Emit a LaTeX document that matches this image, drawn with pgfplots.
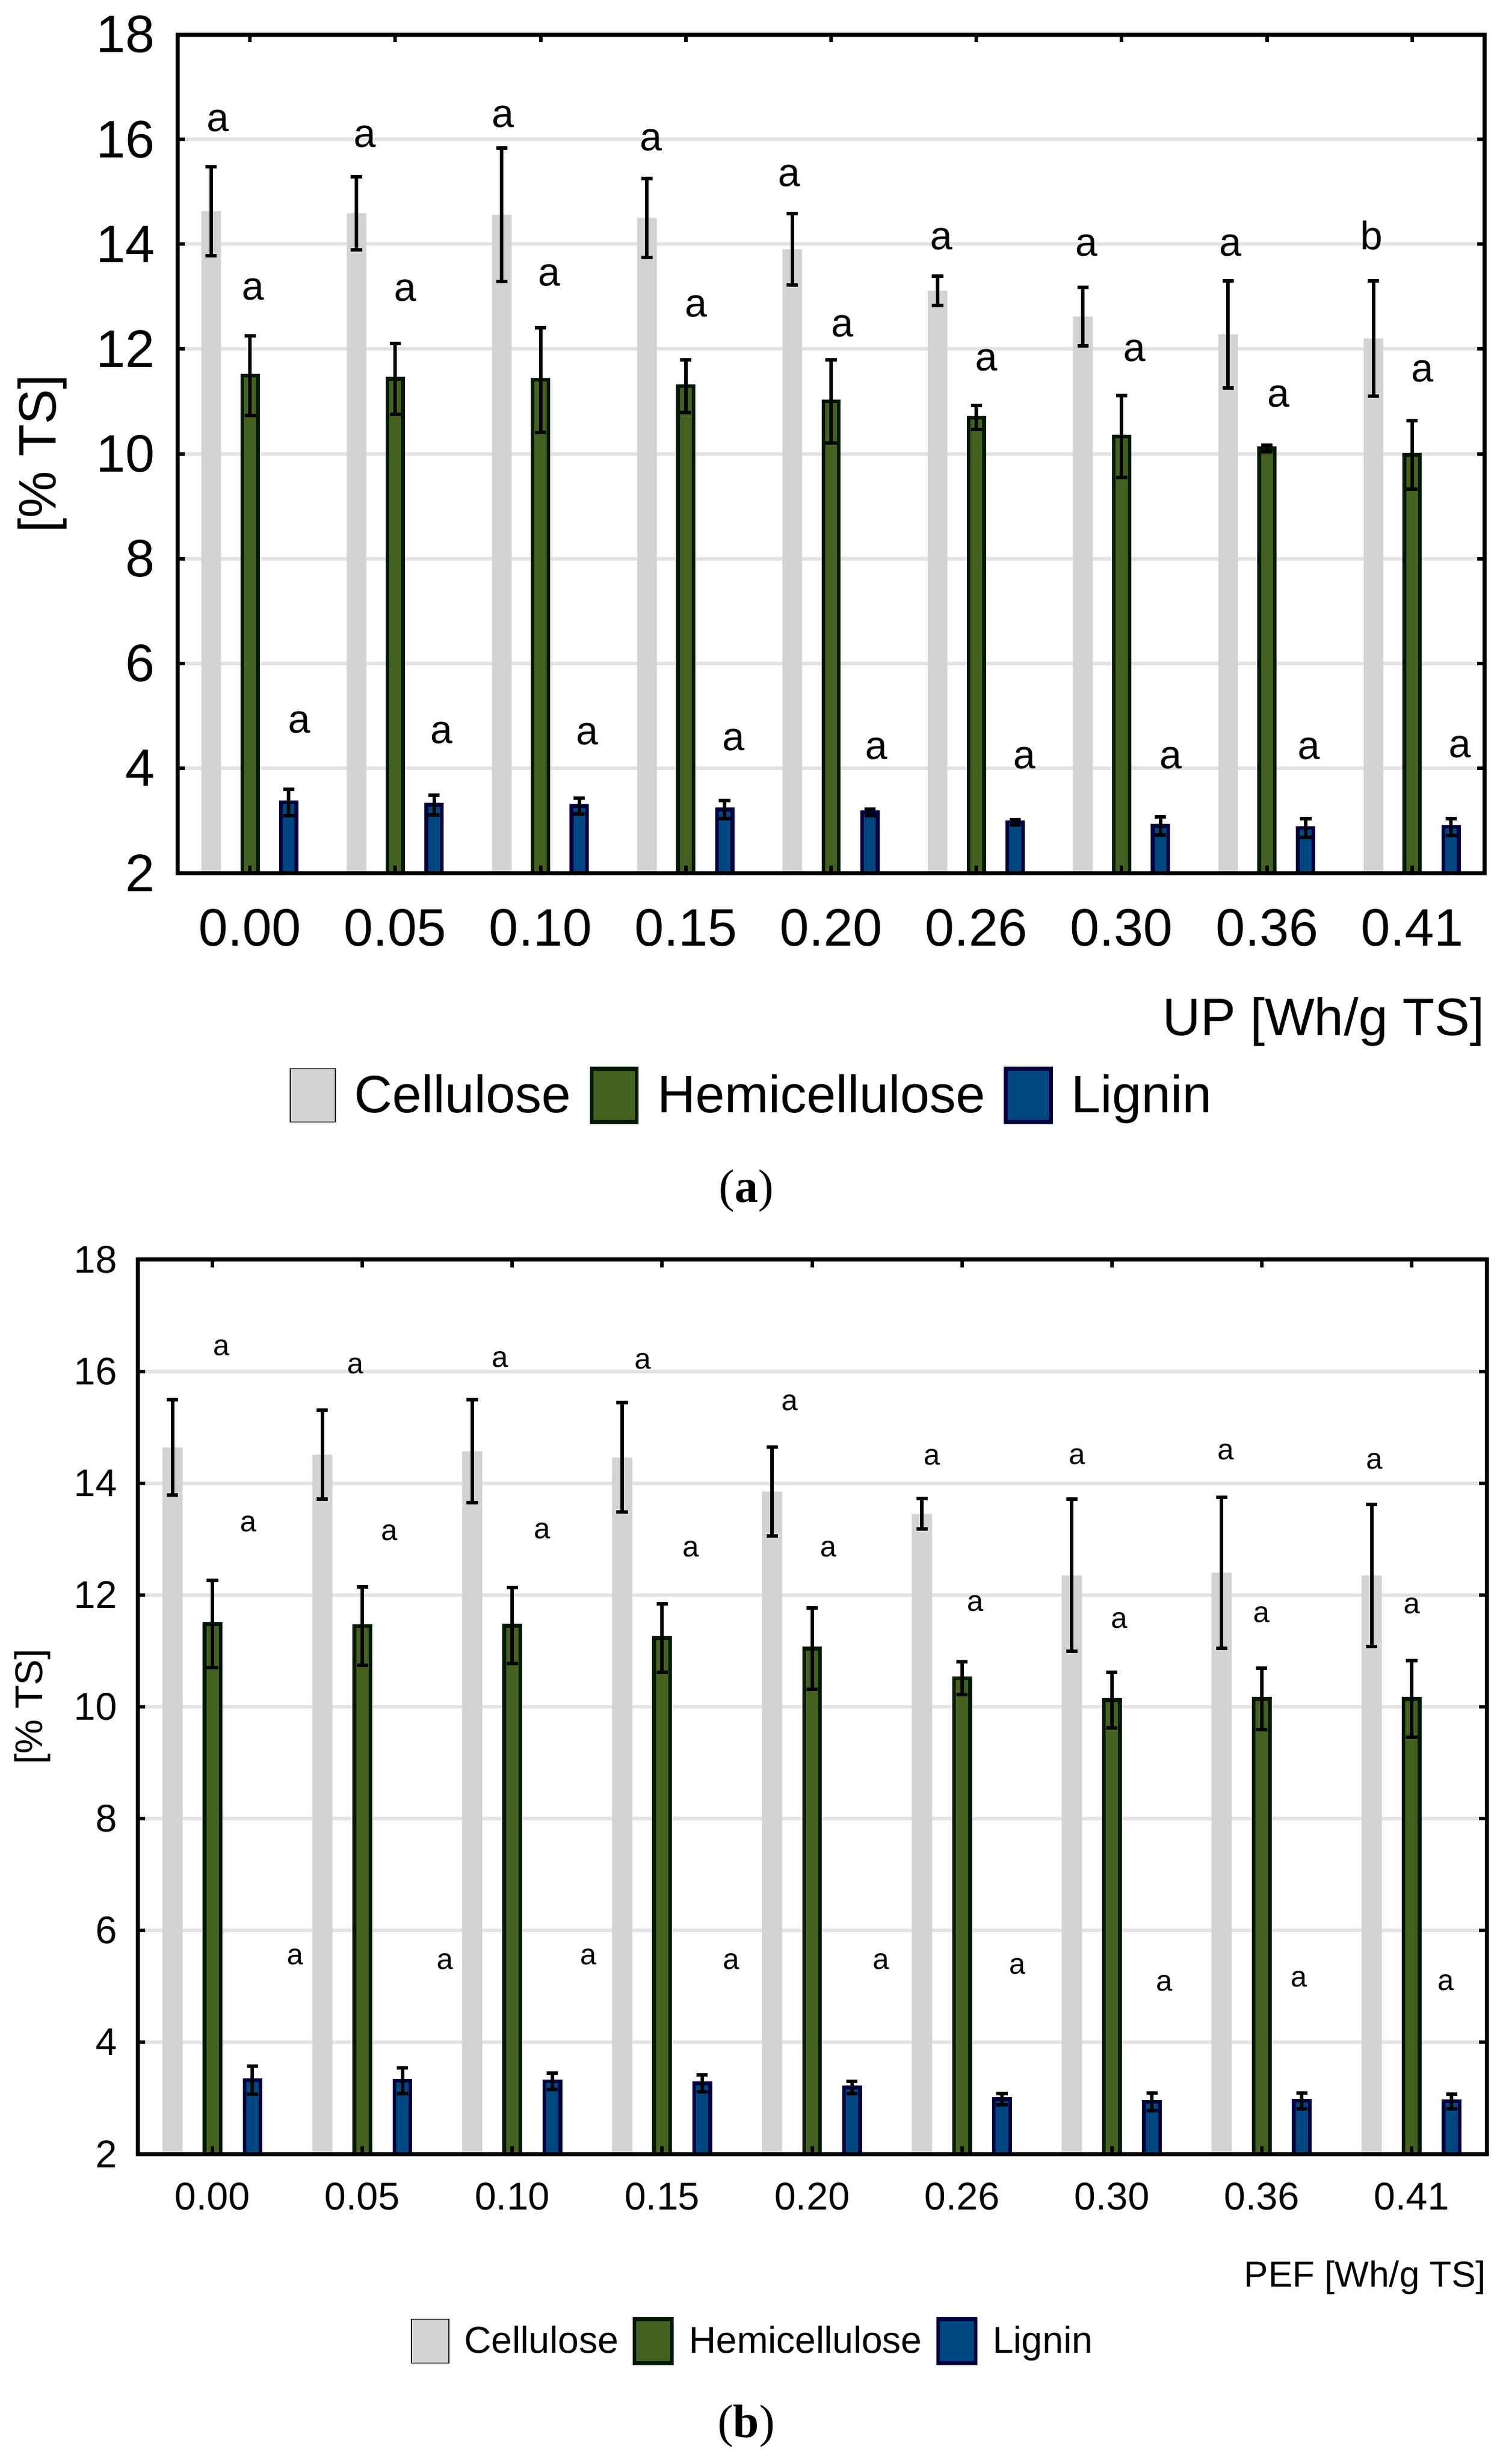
\documentclass[border=0pt]{standalone}
\usepackage{pgfplots}
\pgfplotsset{compat=1.18}
\usepackage{fontspec}
\setmainfont{Liberation Sans}
\newfontfamily\serif{Liberation Serif}

\definecolor{cellcol}{HTML}{D3D3D3}
\definecolor{hemicol}{HTML}{456120}
\definecolor{hemiedge}{HTML}{001A00}
\definecolor{ligcol}{HTML}{004680}
\definecolor{ligedge}{HTML}{000040}
\definecolor{gridcol}{HTML}{E3E3E3}

% grid under the bars, frame and ticks over them
\pgfplotsset{
  layers/bars under/.define layer set={axis background,axis grid,main,axis ticks,axis lines,axis tick labels,axis descriptions,axis foreground}{/pgfplots/layers/standard},
  panel/.style={
    set layers=bars under,
    scale only axis,
    xmin=-0.5, xmax=8.5, ymin=2, ymax=18,
    xtick={0,...,8},
    xticklabels={0.00,0.05,0.10,0.15,0.20,0.26,0.30,0.36,0.41},
    ytick={2,4,...,18},
    ymajorgrids,
    major grid style={line width=1.5pt, gridcol},
    tick align=inside,
    major tick length=3.25pt,
    tick style={line width=1.5pt, black},
    axis line style={line width=1.75pt},
    /pgf/number format/assume math mode=true,
    legend columns=3,
    legend image code/.code={\draw[##1] (0pt,-\legh) rectangle (\legw,\legh);},
  },
  err/.style={error bars/.cd, y dir=both, y explicit,
    error mark=-,
    error bar style={line width=1.5pt, black},
    error mark options={rotate=90, black, line width=1.5pt, mark size=2.4pt}},
  % bars are placed at their own x (group index -0.267 / 0 / +0.267)
  cell/.style={ybar, bar width=0.135, bar shift=0pt, fill=cellcol, draw=none, err},
  hemi/.style={ybar, bar width=0.107, bar shift=0pt, fill=hemicol, draw=hemiedge, line width=1.6pt, err},
  lig/.style={ybar, bar width=0.107, bar shift=0pt, fill=ligcol, draw=ligedge, line width=1.6pt, err},
}

\begin{document}
\begin{tikzpicture}
\path (0,0) rectangle (642pt,-1052.75pt);

% ---------------- (a) UP ----------------
\def\legw{19.25pt}\def\legh{11.4pt}
\begin{axis}[panel,
  width=558.5pt, height=358.25pt,
  at={(75.75pt,-14.75pt)}, anchor=north west,
  tick label style={font=\fontsize{22.5}{27}\selectfont},
  xticklabel style={anchor=base, inner sep=0pt, yshift=-31pt},
  yticklabel style={anchor=east, inner sep=0pt, xshift=-9.5pt},
  ylabel={[\% TS]},
  ylabel style={at={(axis description cs:0,0.5)}, anchor=center, yshift=57.75pt, font=\fontsize{22.5}{27}\selectfont},
  xlabel={UP [Wh/g TS]},
  xlabel style={at={(axis description cs:1,0)}, anchor=base east, inner sep=0pt, yshift=-69.25pt, font=\fontsize{22.5}{27}\selectfont},
  legend style={at={(axis description cs:0.4387,0)}, anchor=center, yshift=-95pt,
    draw=none, fill=none, font=\fontsize{22.5}{27}\selectfont,
    nodes={inner sep=0pt},
    /tikz/every odd column/.append style={column sep=8pt},
    /tikz/every even column/.append style={column sep=8pt}},
]
\addplot[cell] coordinates {
  (-0.267,14.63) +- (0,0.85) (0.733,14.59) +- (0,0.70) (1.733,14.56) +- (0,1.27)
  (2.733,14.50) +- (0,0.75) (3.733,13.90) +- (0,0.68) (4.733,13.11) +- (0,0.28)
  (5.733,12.62) +- (0,0.56) (6.733,12.28) +- (0,1.02) (7.733,12.20) +- (0,1.10)};
\addlegendentry{Cellulose}
\addplot[hemi] coordinates {
  (0,11.49) +- (0,0.76) (1,11.43) +- (0,0.68) (2,11.41) +- (0,1.00)
  (3,11.29) +- (0,0.50) (4,11.00) +- (0,0.79) (5,10.69) +- (0,0.23)
  (6,10.33) +- (0,0.78) (7,10.10) +- (0,0.06) (8,9.98) +- (0,0.65)};
\addlegendentry{Hemicellulose}
\addplot[lig] coordinates {
  (0.267,3.35) +- (0,0.25) (1.267,3.30) +- (0,0.19) (2.267,3.28) +- (0,0.15)
  (3.267,3.21) +- (0,0.17) (4.267,3.16) +- (0,0.06) (5.267,2.97) +- (0,0.05)
  (6.267,2.90) +- (0,0.17) (7.267,2.86) +- (0,0.18) (8.267,2.88) +- (0,0.16)};
\addlegendentry{Lignin}

\begin{scope}[every node/.style={font=\fontsize{17}{20}\selectfont, inner sep=0pt}]
\node at (axis cs:-0.22,16.35) {a}; \node at (axis cs:0.02,13.14) {a}; \node at (axis cs:0.34,4.87) {a};
\node at (axis cs:0.79,16.05) {a}; \node at (axis cs:1.07,13.11) {a}; \node at (axis cs:1.32,4.67) {a};
\node at (axis cs:1.74,16.43) {a}; \node at (axis cs:2.06,13.40) {a}; \node at (axis cs:2.32,4.65) {a};
\node at (axis cs:2.76,15.98) {a}; \node at (axis cs:3.07,12.81) {a}; \node at (axis cs:3.33,4.54) {a};
\node at (axis cs:3.71,15.30) {a}; \node at (axis cs:4.08,12.43) {a}; \node at (axis cs:4.31,4.37) {a};
\node at (axis cs:4.76,14.10) {a}; \node at (axis cs:5.07,11.79) {a}; \node at (axis cs:5.33,4.19) {a};
\node at (axis cs:5.76,13.97) {a}; \node at (axis cs:6.09,11.96) {a}; \node at (axis cs:6.34,4.19) {a};
\node at (axis cs:6.75,13.97) {a}; \node at (axis cs:7.08,11.09) {a}; \node at (axis cs:7.29,4.37) {a};
\node at (axis cs:7.72,14.17) {b}; \node at (axis cs:8.07,11.57) {a}; \node at (axis cs:8.33,4.41) {a};
\end{scope}
\end{axis}

\node[font=\serif\fontsize{20}{24}\selectfont] at (318.75pt,-508.75pt) {(\textbf{a})};

% ---------------- (b) PEF ----------------
\def\legw{16pt}\def\legh{9.4pt}
\begin{axis}[panel,
  width=576.25pt, height=382.1pt,
  at={(58.75pt,-538.15pt)}, anchor=north west,
  tick label style={font=\fontsize{16.5}{20}\selectfont},
  xticklabel style={anchor=base, inner sep=0pt, yshift=-23.75pt},
  yticklabel style={anchor=east, inner sep=0pt, xshift=-8.5pt},
  ylabel={[\% TS]},
  ylabel style={at={(axis description cs:0,0.5)}, anchor=center, yshift=45pt, font=\fontsize{16.5}{20}\selectfont},
  xlabel={PEF [Wh/g TS]},
  xlabel style={at={(axis description cs:1,0)}, anchor=base east, inner sep=0pt, yshift=-56.75pt, font=\fontsize{15.5}{19}\selectfont},
  legend style={at={(axis description cs:0.4553,0)}, anchor=center, yshift=-80pt,
    draw=none, fill=none, font=\fontsize{16}{19}\selectfont,
    nodes={inner sep=0pt},
    /tikz/every odd column/.append style={column sep=6.5pt},
    /tikz/every even column/.append style={column sep=6pt}},
]
\addplot[cell] coordinates {
  (-0.267,14.64) +- (0,0.85) (0.733,14.51) +- (0,0.80) (1.733,14.57) +- (0,0.92)
  (2.733,14.46) +- (0,0.98) (3.733,13.85) +- (0,0.80) (4.733,13.45) +- (0,0.27)
  (5.733,12.35) +- (0,1.36) (6.733,12.40) +- (0,1.35) (7.733,12.35) +- (0,1.27)};
\addlegendentry{Cellulose}
\addplot[hemi] coordinates {
  (0,11.48) +- (0,0.78) (1,11.44) +- (0,0.70) (2,11.45) +- (0,0.68)
  (3,11.23) +- (0,0.61) (4,11.04) +- (0,0.73) (5,10.51) +- (0,0.29)
  (6,10.12) +- (0,0.50) (7,10.14) +- (0,0.55) (8,10.14) +- (0,0.69)};
\addlegendentry{Hemicellulose}
\addplot[lig] coordinates {
  (0.267,3.32) +- (0,0.25) (1.267,3.31) +- (0,0.23) (2.267,3.30) +- (0,0.15)
  (3.267,3.26) +- (0,0.15) (4.267,3.19) +- (0,0.11) (5.267,2.98) +- (0,0.10)
  (6.267,2.93) +- (0,0.16) (7.267,2.95) +- (0,0.14) (8.267,2.94) +- (0,0.13)};
\addlegendentry{Lignin}

\begin{scope}[every node/.style={font=\fontsize{12.5}{15}\selectfont, inner sep=0pt}]
\node at (axis cs:0.06,16.42) {a}; \node at (axis cs:0.24,13.27) {a}; \node at (axis cs:0.55,5.53) {a};
\node at (axis cs:0.955,16.10) {a}; \node at (axis cs:1.18,13.11) {a}; \node at (axis cs:1.55,5.44) {a};
\node at (axis cs:1.92,16.21) {a}; \node at (axis cs:2.20,13.15) {a}; \node at (axis cs:2.51,5.53) {a};
\node at (axis cs:2.87,16.18) {a}; \node at (axis cs:3.19,12.82) {a}; \node at (axis cs:3.46,5.44) {a};
\node at (axis cs:3.85,15.44) {a}; \node at (axis cs:4.11,12.82) {a}; \node at (axis cs:4.46,5.44) {a};
\node at (axis cs:4.80,14.47) {a}; \node at (axis cs:5.09,11.85) {a}; \node at (axis cs:5.37,5.36) {a};
\node at (axis cs:5.77,14.48) {a}; \node at (axis cs:6.05,11.54) {a}; \node at (axis cs:6.35,5.05) {a};
\node at (axis cs:6.76,14.56) {a}; \node at (axis cs:7.00,11.65) {a}; \node at (axis cs:7.25,5.13) {a};
\node at (axis cs:7.75,14.39) {a}; \node at (axis cs:8.00,11.81) {a}; \node at (axis cs:8.23,5.06) {a};
\end{scope}
\end{axis}

\node[font=\serif\fontsize{20}{24}\selectfont] at (318.75pt,-1036.5pt) {(\textbf{b})};
\end{tikzpicture}
\end{document}
